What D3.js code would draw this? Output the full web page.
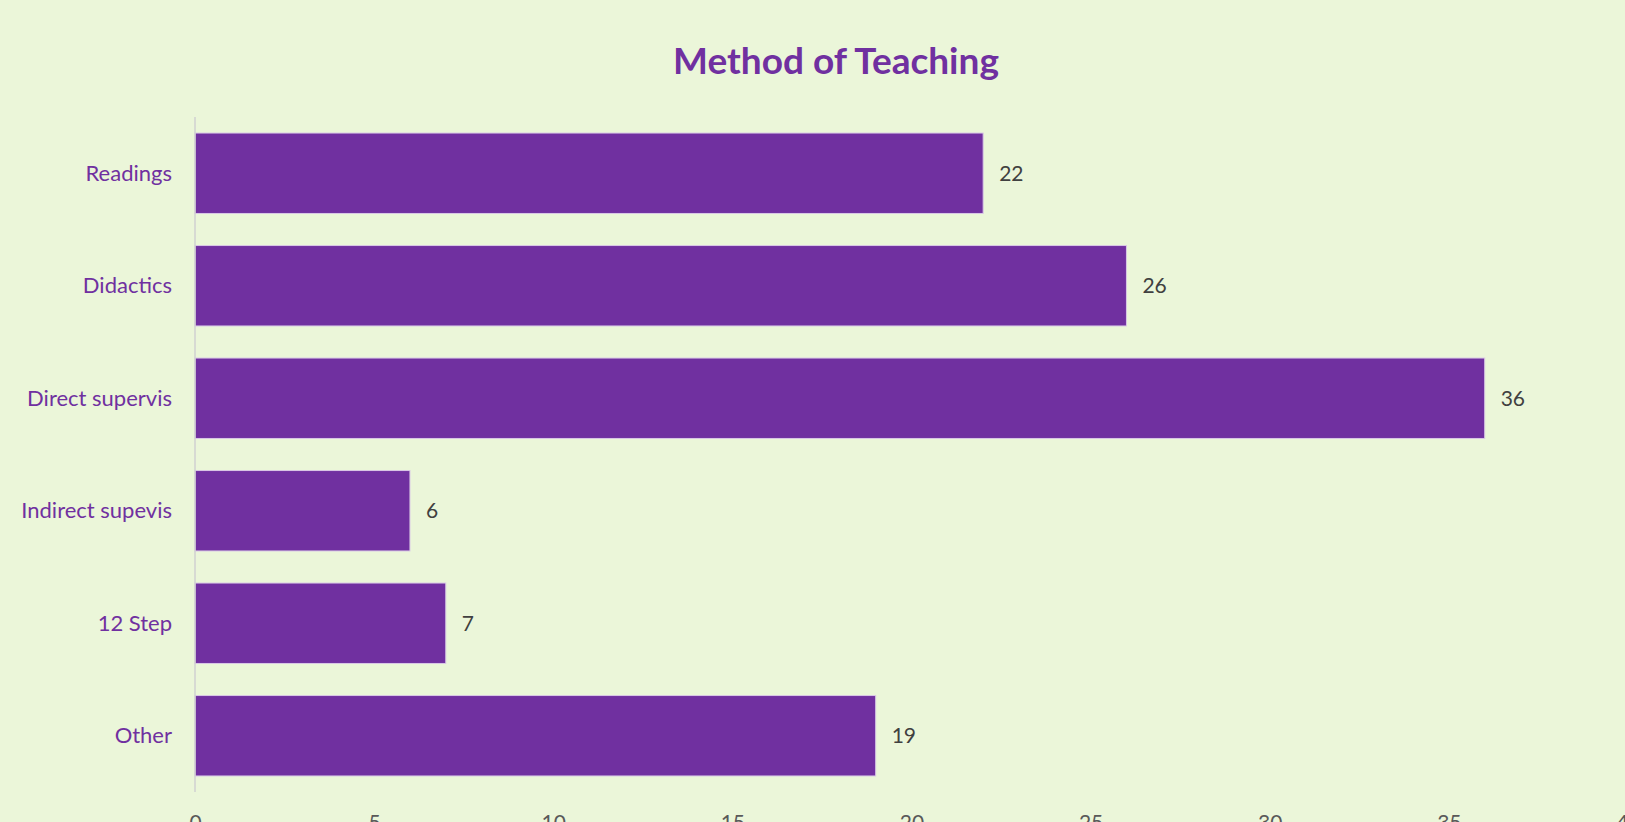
<!DOCTYPE html>
<html>
<head>
<meta charset="utf-8">
<script src="https://cdn.jsdelivr.net/npm/d3@7"></script>
<style>
  html, body { margin: 0; padding: 0; background: #ebf6d9; overflow: hidden; }
  svg { display: block; font-family: Lato, "Open Sans", sans-serif; }
</style>
</head>
<body>
<div id="chart"></div>
<script>
var w = 1625, h = 822;

var categories = ['Readings', 'Didactics', 'Direct supervis', 'Indirect supevis', '12 Step', 'Other'];
var values = [22, 26, 36, 6, 7, 19];
var xTicks = [0, 5, 10, 15, 20, 25, 30, 35, 40];

var purple = '#7030a0';

var svg = d3.select('#chart').append('svg')
  .attr('width', w)
  .attr('height', h);

svg.append('rect').attr('width', w).attr('height', h).attr('fill', '#ebf6d9');

// scales - plot area from the axis line to past the right edge (40 is cut off)
var x = d3.scaleLinear().domain([0, 40]).range([195, 1628]);
var y = d3.scaleBand().domain(categories).range([117, 792])
  .paddingInner(0.285).paddingOuter(0.1425);

// title
svg.append('text')
  .attr('x', 836)
  .attr('y', 74)
  .attr('text-anchor', 'middle')
  .attr('fill', purple)
  .style('font-weight', 'bold')
  .style('font-size', '37px')
  .text('Method of Teaching');

// bars
svg.selectAll('rect.bar')
  .data(values)
  .enter()
  .append('rect')
  .attr('class', 'bar')
  .attr('x', x(0))
  .attr('y', function (d, i) { return y(categories[i]); })
  .attr('width', function (d) { return x(d) - x(0); })
  .attr('height', y.bandwidth())
  .attr('fill', purple)
  .attr('stroke', '#d9c8e6')
  .attr('stroke-width', 1);

// value labels
svg.selectAll('text.val')
  .data(values)
  .enter()
  .append('text')
  .attr('class', 'val')
  .attr('x', function (d) { return x(d) + 16; })
  .attr('y', function (d, i) { return y(categories[i]) + y.bandwidth() / 2; })
  .attr('dy', '0.35em')
  .attr('fill', '#404040')
  .style('font-size', '21px')
  .text(function (d) { return d; });

// category axis (left) - just the line and labels
svg.append('line')
  .attr('x1', x(0)).attr('x2', x(0))
  .attr('y1', 117).attr('y2', 792)
  .attr('stroke', '#d0d0d0')
  .attr('stroke-width', 1.5);

svg.selectAll('text.cat')
  .data(categories)
  .enter()
  .append('text')
  .attr('class', 'cat')
  .attr('x', 172)
  .attr('y', function (d) { return y(d) + y.bandwidth() / 2; })
  .attr('dy', '0.35em')
  .attr('text-anchor', 'end')
  .attr('fill', purple)
  .style('font-size', '22px')
  .text(function (d) { return d; });

// value axis labels along the bottom (cut off by the window, as in the original)
var xAxis = d3.axisBottom(x).tickValues(xTicks).tickSize(0).tickPadding(0);
var gx = svg.append('g')
  .attr('transform', 'translate(0,815)')
  .call(xAxis);
gx.select('.domain').remove();
gx.selectAll('text')
  .attr('dy', '0.71em')
  .attr('fill', '#595959')
  .style('font-family', 'Lato, "Open Sans", sans-serif')
  .style('font-size', '21px');
</script>
</body>
</html>
